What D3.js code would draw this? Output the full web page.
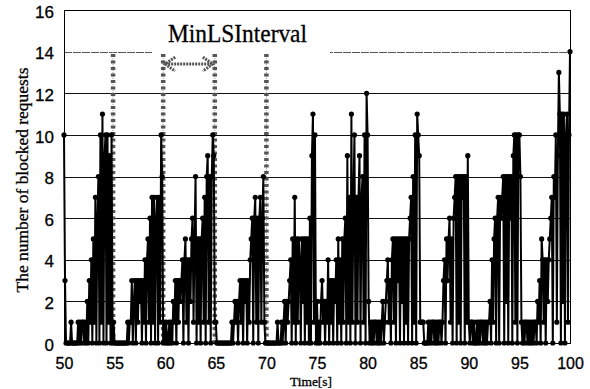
<!DOCTYPE html>
<html lang="en">
<head>
<meta charset="UTF-8">
<title>The number of blocked requests</title>
<style>
* { margin: 0; padding: 0; box-sizing: border-box; }
body { background: #fff; width: 590px; height: 389px; overflow: hidden; }
svg { display: block; font-family: "Liberation Serif", "DejaVu Serif", serif; }
svg text { fill: #000; stroke: #000; stroke-width: 0.3; }
</style>
</head>
<body>
<div id="chart"></div>
<script src="https://cdn.jsdelivr.net/npm/d3@7/dist/d3.min.js"></script>
<script>
// blocked requests, one sample every 0.1 s, in 5 s windows
var seg50 = [10,3,0,0,0,0,0,1,0,0, 0,0,0,0,1,0,1,0,1,1, 0,1,0,2,0,3,1,4,0,5, 1,7,0,6,8,0,10,1,11,0, 9,10,0,10,1,9,0,10,0,1];
var seg55 = [0,0,0,0,0,0,0,0,0,0, 0,0,0,1,0,1,1,3,0,2, 3,0,3,1,3,2,3,0,3,1, 4,0,4,5,1,6,0,7,1,7, 0,6,7,0,7,1,10,8,0,1];
var seg60 = [0,1,0,0,1,0,1,0,2,1, 3,0,3,1,3,2,3,4,0,4, 5,1,4,0,4,2,5,6,1,5, 8,0,5,1,5,0,5,6,1,7, 0,8,9,1,8,0,8,10,9,1];
var seg65 = [1,0,0,0,0,0,0,0,0,0, 0,0,0,0,0,0,1,0,1,2, 1,2,0,2,3,1,3,0,3,2, 3,0,3,1,4,5,6,0,6,7, 1,6,0,6,7,1,6,8,1,0];
var seg70 = [0,0,0,0,0,0,0,0,0,0, 0,1,0,0,0,1,0,1,2,0, 2,1,2,3,4,0,5,1,7,0, 5,1,5,4,0,5,2,5,0,5, 1,5,0,6,0,9,11,1,10,0];
var seg75 = [2,0,1,0,2,3,1,2,0,2, 1,4,0,3,1,3,0,3,2,4, 0,5,1,4,0,5,1,5,6,0, 9,1,7,0,11,1,7,10,0,7, 1,7,9,0,7,8,1,10,0,12];
var seg80 = [10,2,0,1,0,1,0,1,1,0, 1,0,1,0,1,2,0,1,2,3, 4,1,3,0,4,5,1,5,0,5, 3,5,0,5,2,5,0,5,1,5, 0,5,6,7,0,8,1,10,0,11];
var seg85 = [10,9,1,1,1,1,0,0,0,0, 1,0,1,0,1,1,0,1,0,1, 0,1,1,0,1,3,4,0,5,3, 5,6,1,5,0,6,7,8,0,8, 1,8,0,8,7,8,0,8,1,9];
var seg90 = [1,0,1,1,0,1,0,0,1,0, 1,0,1,1,0,1,0,1,0,1, 1,2,0,4,1,5,6,0,6,7, 0,7,6,7,8,0,8,2,8,0, 8,6,8,0,9,10,1,10,0,10];
var seg95 = [10,8,1,0,1,0,1,1,0,1, 0,1,0,1,0,1,1,0,2,1, 3,0,5,4,1,4,0,4,2,4, 5,6,7,0,8,7,10,1,9,13, 11,0,11,2,11,0,10,11,1,10, 14];

var startTime = 50;
var sampleStep = 0.1;

// link-state update instants, drawn as dotted columns up to lsTop
var lsTimes = [54.85, 59.8, 64.9, 70];
var lsTop = 14;

// MinLSInterval annotation
var intervalFrom = 59.8;
var intervalTo = 64.9;
var intervalLevel = 13.4;
var intervalLabel = "MinLSInterval";

var xTicks = [50, 55, 60, 65, 70, 75, 80, 85, 90, 95, 100];
var yTicks = [0, 2, 4, 6, 8, 10, 12, 14, 16];
var gridLevels = [2, 4, 6, 8, 10, 12, 14];

var values = [].concat(seg50, seg55, seg60, seg65, seg70, seg75, seg80, seg85, seg90, seg95);
var points = values.map(function(v, i) {
	return { t: startTime + i * sampleStep, v: v };
});

var width = 590, height = 389;

var x = d3.scaleLinear().domain([50, 100]).range([64, 570]);
var y = d3.scaleLinear().domain([0, 16]).range([343, 10]);

var svg = d3.select("#chart").append("svg")
	.attr("width", width)
	.attr("height", height);

// grid
svg.append("g").selectAll("line").data(gridLevels).join("line")
	.attr("x1", x(50)).attr("x2", x(100))
	.attr("y1", function(d) { return Math.round(y(d)) + 0.5; })
	.attr("y2", function(d) { return Math.round(y(d)) + 0.5; })
	.attr("stroke", function(d) { return d === 14 ? "#555" : "#111"; })
	.attr("stroke-dasharray", function(d) { return d === 14 ? "8,1" : null; })
	.attr("stroke-width", 1);

// link-state update columns
var lsG = svg.append("g");
lsG.selectAll("line.ls-thin").data(lsTimes).join("line")
	.attr("class", "ls-thin")
	.attr("x1", function(d) { return x(d); }).attr("x2", function(d) { return x(d); })
	.attr("y1", y(0)).attr("y2", y(lsTop))
	.attr("stroke", "#999")
	.attr("stroke-width", 1)
	.attr("stroke-dasharray", "1,1");
lsG.selectAll("line.ls-mark").data(lsTimes).join("line")
	.attr("class", "ls-mark")
	.attr("x1", function(d) { return x(d); }).attr("x2", function(d) { return x(d); })
	.attr("y1", y(0)).attr("y2", y(lsTop))
	.attr("stroke", "#555")
	.attr("stroke-width", 4.5)
	.attr("stroke-dasharray", "3,3.5");

// blocked requests series
var line = d3.line()
	.x(function(d) { return x(d.t); })
	.y(function(d) { return y(d.v); });

svg.append("path")
	.datum(points)
	.attr("d", line)
	.attr("fill", "none")
	.attr("stroke", "#000")
	.attr("stroke-width", 2);

svg.append("g").selectAll("circle").data(points).join("circle")
	.attr("cx", function(d) { return x(d.t); })
	.attr("cy", function(d) { return y(d.v); })
	.attr("r", 2.6)
	.attr("fill", "#000");

// frame
svg.append("rect")
	.attr("x", x(50) + 0.5).attr("y", y(16) + 0.5)
	.attr("width", x(100) - x(50)).attr("height", y(0) - y(16))
	.attr("fill", "none")
	.attr("stroke", "#000")
	.attr("stroke-width", 1);

// axes
var xAxis = svg.append("g")
	.attr("transform", "translate(0," + y(0) + ")")
	.call(d3.axisBottom(x).tickValues(xTicks).tickSize(0).tickPadding(15).tickFormat(d3.format("d")));
xAxis.select(".domain").remove();
xAxis.selectAll("text").attr("font-size", 16);

var yAxis = svg.append("g")
	.attr("transform", "translate(" + x(50) + ",0)")
	.call(d3.axisLeft(y).tickValues(yTicks).tickSize(0).tickPadding(10).tickFormat(d3.format("d")));
yAxis.select(".domain").remove();
yAxis.selectAll("text").attr("font-size", 17).attr("dy", "0.42em");

svg.append("text")
	.attr("x", 311).attr("y", 386)
	.attr("text-anchor", "middle")
	.attr("font-size", 13)
	.attr("textLength", 42)
	.attr("lengthAdjust", "spacingAndGlyphs")
	.text("Time[s]");

svg.append("text")
	.attr("transform", "translate(28,180) rotate(-90)")
	.attr("text-anchor", "middle")
	.attr("font-size", 17.5)
	.attr("textLength", 225)
	.attr("lengthAdjust", "spacingAndGlyphs")
	.text("The number of blocked requests");

// annotation: label on white box, double arrow between two updates
svg.append("rect")
	.attr("x", 152).attr("y", 11)
	.attr("width", 178).attr("height", 42)
	.attr("fill", "#fff");

svg.append("text")
	.attr("x", 168).attr("y", 42)
	.attr("font-size", 25)
	.attr("textLength", 139)
	.attr("lengthAdjust", "spacingAndGlyphs")
	.text(intervalLabel);

var ay = y(intervalLevel);
var ax0 = x(intervalFrom) + 2;
var ax1 = x(intervalTo) - 2;
svg.append("path")
	.attr("d", "M" + ax0 + "," + ay + "H" + ax1 +
		"M" + (ax0 + 10) + "," + (ay - 7) + "L" + ax0 + "," + ay + "L" + (ax0 + 10) + "," + (ay + 7) +
		"M" + (ax1 - 10) + "," + (ay - 7) + "L" + ax1 + "," + ay + "L" + (ax1 - 10) + "," + (ay + 7))
	.attr("fill", "none")
	.attr("stroke", "#555")
	.attr("stroke-width", 3)
	.attr("stroke-dasharray", "2,1");
</script>
</body>
</html>
